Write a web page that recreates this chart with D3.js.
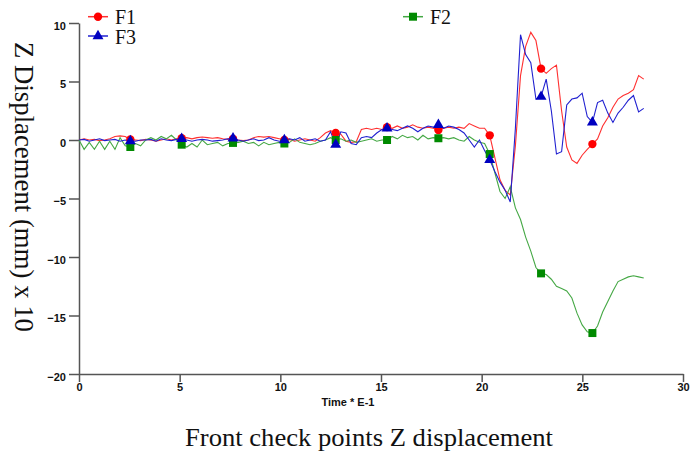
<!DOCTYPE html>
<html>
<head>
<meta charset="utf-8">
<script src="https://cdn.jsdelivr.net/npm/d3@7"></script>
<style>
  body { margin: 0; background: #fff; }
  .tick text, .xname { font-family: "Liberation Sans Narrow", "Arial Narrow", Arial, sans-serif; font-weight: bold; font-size: 11px; fill: #111; }
  .serif { font-family: "Liberation Serif", "Times New Roman", serif; fill: #111; }
</style>
</head>
<body>
<div id="chart"></div>
<script>
'use strict';

// time step between samples (Time * E-1), markers every 10th sample
const step = 0.255;
const markEvery = 10;
const lastMark = 100;

const yTicks = [-20, -15, -10, -5, 0, 5, 10];
const xTicks = [0, 5, 10, 15, 20, 25, 30];

// F1 (red)
const f1 = [
  0.0, 0.1, 0.0, 0.05, -0.05, 0.0, 0.1, 0.3, 0.35, 0.3,
  0.05, 0.0, -0.05, 0.05, 0.0, -0.1, 0.0, 0.1, 0.0, 0.1,
  0.15, 0.2, 0.1, 0.2, 0.25, 0.2, 0.15, 0.2, 0.1, 0.05,
  0.1, 0.0, -0.05, 0.0, 0.2, 0.3, 0.25, 0.3, 0.2, 0.1,
  0.0, 0.05, -0.1, 0.0, 0.1, 0.0, -0.1, 0.2, 0.6, 0.8,
  0.6, 0.5, -0.1, -0.2, -0.15, 0.9, 1.0, 0.9, 1.0, 0.9,
  1.1, 1.0, 1.2, 1.0, 1.1, 1.3, 1.1, 1.0, 1.1, 1.0,
  0.85, 1.0, 1.1, 1.0, 1.1, 1.0, 1.4, 1.2, 1.0, 1.0,
  0.4, -1.5, -3.4, -4.3, -4.7, -0.5, 5.5, 8.0, 9.2, 8.5,
  6.1, 5.7, 6.1, 6.4, 2.5, -0.6, -1.7, -2.0, -1.3, -0.8,
  -0.35, 0.1, 1.2, 1.9, 2.8, 3.5, 3.8, 4.0, 4.3, 5.5,
  5.2
];

// F2 (green)
const f2 = [
  0.0, -0.8, -0.2, -0.8, -0.1, -0.8, -0.1, -0.8, 0.2, -0.5,
  -0.6, -0.3, -0.5, 0.0, 0.2, 0.0, 0.3, 0.1, 0.4, 0.0,
  -0.4, -0.6, -0.3, -0.6, 0.0, -0.4, -0.3, -0.2, -0.5, -0.3,
  -0.25, -0.2, -0.1, -0.3, -0.2, -0.5, -0.2, -0.4, -0.3, -0.2,
  -0.3, -0.2, 0.1, -0.2, -0.3, -0.4, -0.3, -0.1, 0.0, 0.2,
  0.0, 0.1, -0.1, 0.0, -0.2, -0.1, 0.0, 0.1, -0.1, 0.0,
  0.0, 0.3, 0.1, 0.4, 0.2, 0.3, 0.0, 0.4, 0.1, 0.2,
  0.15, 0.2, 0.1, 0.2, 0.0, -0.1, 0.3, 0.0, -0.2, -0.3,
  -1.2, -2.8, -4.4, -5.0, -4.0, -5.8, -6.8, -8.3, -9.5, -10.9,
  -11.4, -11.5, -11.9, -12.5, -12.7, -12.9, -13.5, -14.8, -15.8, -16.4,
  -16.5, -15.9, -14.7, -13.8, -12.9, -12.1, -11.9, -11.7, -11.6, -11.7,
  -11.8
];

// F3 (blue)
const f3 = [
  0.0, 0.05, -0.1, 0.0, 0.1, -0.05, 0.0, 0.05, -0.1, 0.0,
  -0.1, -0.1, 0.0, 0.0, 0.05, -0.1, 0.1, 0.0, -0.05, 0.05,
  0.1, 0.0, -0.1, 0.0, 0.05, 0.0, -0.1, -0.05, 0.0, 0.1,
  0.15, 0.0, -0.1, 0.0, 0.1, -0.05, 0.0, 0.2, 0.0, -0.1,
  0.0, 0.1, 0.0, 0.2, -0.1, 0.0, 0.1, -0.1, 0.0, 0.7,
  -0.4, 0.7, 0.6, -0.3, -0.4, 0.2, 0.3, 0.2, 0.6, 0.9,
  1.0, 0.9, 0.8, 1.0, 1.2, 1.0, 0.7, 1.0, 1.2, 1.1,
  1.3, 1.0, 1.2, 1.1, 0.9, 0.6, 0.0, -0.6, 0.0, -0.9,
  -1.7, -2.7, -3.6, -4.3, -5.3, 1.0, 9.0, 7.3, 6.6, 3.5,
  3.7, 5.2, 2.5, -1.2, -1.0, 3.0, 3.5, 3.6, 4.0, 2.0,
  1.5, 3.2, 3.4, 2.3, 1.5, 2.3, 2.8, 3.4, 3.8, 2.4,
  2.7
];

const series = [
  {name: 'F1', values: f1, line: '#ff3030', mark: '#ff0000', shape: d3.symbolCircle, size: 55},
  {name: 'F2', values: f2, line: '#45a845', mark: '#008a00', shape: d3.symbolSquare, size: 64},
  {name: 'F3', values: f3, line: '#2020d0', mark: '#0000c0', shape: d3.symbolTriangle, size: 52}
];

const width = 697, height = 453;

const svg = d3.select('#chart').append('svg')
  .attr('width', width)
  .attr('height', height);

const x = d3.scaleLinear().domain([0, 30]).range([79, 683]);
const y = d3.scaleLinear().domain([-20, 10]).range([374, 23]);

// axes
const yAxis = svg.append('g')
  .attr('transform', 'translate(79,0)')
  .call(d3.axisLeft(y).tickValues(yTicks).tickSize(10).tickSizeOuter(0).tickPadding(3));
yAxis.selectAll('text').attr('dy', '0.75em').attr('y', -2);

const xAxis = svg.append('g')
  .attr('transform', 'translate(0,374)')
  .call(d3.axisBottom(x).tickValues(xTicks).tickSize(8).tickSizeOuter(0).tickPadding(1));

svg.selectAll('.domain, .tick line').attr('stroke', '#555').attr('stroke-width', 1.5);

svg.append('text').attr('class', 'xname')
  .attr('x', 348).attr('y', 406)
  .attr('text-anchor', 'middle')
  .text('Time * E-1');

// lines and markers
const line = d3.line()
  .x((d, i) => x(i * step))
  .y(d => y(d));

series.forEach(s => {
  svg.append('path')
    .attr('d', line(s.values))
    .attr('fill', 'none')
    .attr('stroke', s.line)
    .attr('stroke-width', 1.1);
});

series.forEach(s => {
  const pts = s.values.map((v, i) => ({i, v}))
    .filter(d => d.i > 0 && d.i <= lastMark && d.i % markEvery === 0);
  svg.append('g').selectAll('path')
    .data(pts)
    .join('path')
    .attr('transform', d => `translate(${x(d.i * step)},${y(d.v)})`)
    .attr('d', d3.symbol().type(s.shape).size(s.size))
    .attr('fill', s.mark);
});

// legend
const legend = [
  {s: series[0], x: 88, y: 16.7, ty: 23.5},
  {s: series[2], x: 88, y: 36, ty: 43.5},
  {s: series[1], x: 403, y: 16.7, ty: 24}
];
legend.forEach(l => {
  const g = svg.append('g');
  g.append('line')
    .attr('x1', l.x).attr('x2', l.x + 20)
    .attr('y1', l.y).attr('y2', l.y)
    .attr('stroke', l.s.line).attr('stroke-width', 1.5);
  g.append('path')
    .attr('transform', `translate(${l.x + 10},${l.y})`)
    .attr('d', d3.symbol().type(l.s.shape).size(l.s.size))
    .attr('fill', l.s.mark);
  g.append('text').attr('class', 'serif')
    .attr('x', l.x + 27).attr('y', l.ty)
    .attr('font-size', 20)
    .text(l.s.name);
});

// axis title (rotated) and caption
svg.append('text').attr('class', 'serif')
  .attr('transform', 'translate(15,42) rotate(90)')
  .attr('font-size', 27)
  .attr('textLength', 290)
  .attr('lengthAdjust', 'spacingAndGlyphs')
  .text('Z Displacement (mm) x 10');

svg.append('text').attr('class', 'serif')
  .attr('x', 185).attr('y', 446)
  .attr('font-size', 25)
  .attr('textLength', 368)
  .attr('lengthAdjust', 'spacingAndGlyphs')
  .text('Front check points Z displacement');
</script>
</body>
</html>
